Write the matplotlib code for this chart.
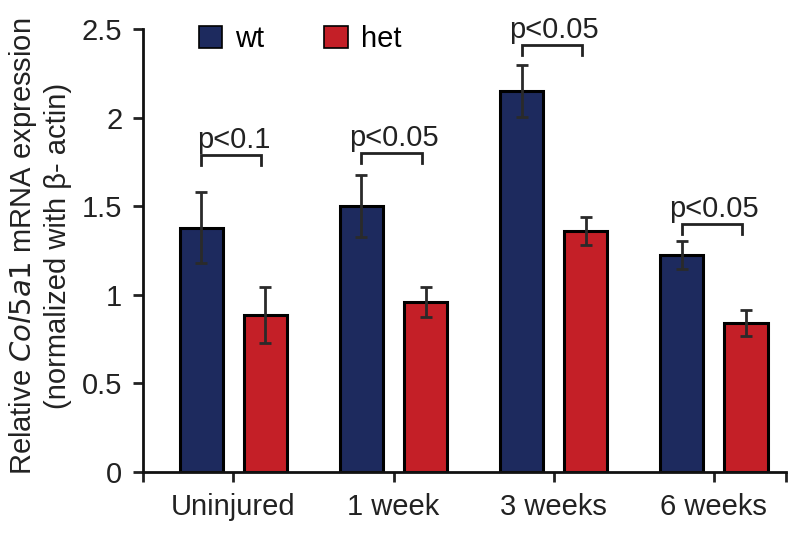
import matplotlib
matplotlib.use("Agg")
import matplotlib.pyplot as plt
import numpy as np
from matplotlib.patches import Patch

categories = ["Uninjured", "1 week", "3 weeks", "6 weeks"]
wt_vals = [1.38, 1.50, 2.15, 1.225]
wt_err = [0.20, 0.175, 0.147, 0.08]
het_vals = [0.885, 0.96, 1.36, 0.842]
het_err = [0.16, 0.085, 0.08, 0.074]
p_labels = ["p<0.1", "p<0.05", "p<0.05", "p<0.05"]
bracket_y = [1.79, 1.80, 2.41, 1.40]

plt.rcParams['font.family'] = ['Liberation Sans', 'DejaVu Sans']
FS = 21

fig = plt.figure(figsize=(8, 5.35), dpi=100)
ax = fig.add_axes([0.179, 0.1183, 0.8035, 0.8269])

x = np.arange(len(categories))
off = 0.2
w = 0.27
wt_color = '#1d2a5e'
het_color = '#c41f27'
ecol = '#2a2a2a'

ax.bar(x - off, wt_vals, w, color=wt_color, edgecolor='black', linewidth=2.2, zorder=2)
ax.bar(x + off, het_vals, w, color=het_color, edgecolor='black', linewidth=2.2, zorder=2)
ax.errorbar(x - off, wt_vals, yerr=wt_err, fmt='none', ecolor=ecol, elinewidth=2.0,
            capsize=4, capthick=2.0, zorder=3)
ax.errorbar(x + off, het_vals, yerr=het_err, fmt='none', ecolor=ecol, elinewidth=2.0,
            capsize=4, capthick=2.0, zorder=3)

leg_h = 0.055
for xi, by, lab in zip(x, bracket_y, p_labels):
    x0, x1 = xi - 0.2, xi + 0.175
    ax.plot([x0, x0, x1, x1], [by - leg_h, by, by, by - leg_h], color='#222222',
            lw=2.0, solid_joinstyle='miter', zorder=3)
    ax.text(xi, by + 0.04, lab, ha='center', va='baseline', fontsize=FS, color='#222222')

ax.set_xlim(-0.5625, 3.45)
ax.set_ylim(0, 2.5)
ax.set_yticks([0, 0.5, 1, 1.5, 2, 2.5])
ax.set_yticklabels(["0", "0.5", "1", "1.5", "2", "2.5"])
ax.set_xticks(x)
ax.set_xticklabels(categories)
ax.set_xticks([-0.5625, 3.45], minor=True)
ax.tick_params(axis='both', which='both', direction='out', length=7, width=2.0,
               labelsize=FS, colors='#222222', pad=8)
ax.tick_params(axis='x', which='minor', length=7, width=2.0)

for s in ['top', 'right']:
    ax.spines[s].set_visible(False)
for s in ['left', 'bottom']:
    ax.spines[s].set_linewidth(2.0)
    ax.spines[s].set_color('#111111')

ax.set_ylabel("Relative $\\it{Col5a1}$ mRNA expression\n(normalized with β- actin)",
              fontsize=FS, color='#222222', labelpad=7, linespacing=1.25, y=0.51)

handles = [Patch(facecolor=wt_color, edgecolor='black', linewidth=1.2, label='wt'),
           Patch(facecolor=het_color, edgecolor='black', linewidth=1.2, label='het')]
ax.legend(handles=handles, loc='upper left', bbox_to_anchor=(199 / 800, 1 - 25 / 535),
          bbox_transform=fig.transFigure, ncol=2, frameon=False, fontsize=FS,
          handlelength=0.8, handleheight=0.8, handletextpad=0.45, columnspacing=2.05,
          borderpad=0, borderaxespad=0)

fig.savefig("out.png", dpi=100)
